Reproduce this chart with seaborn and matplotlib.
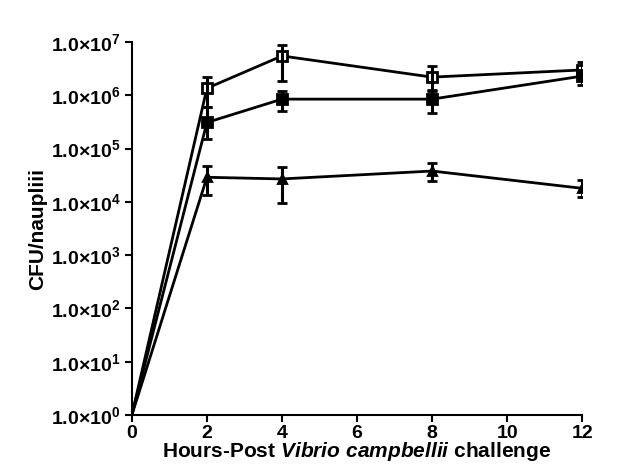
import numpy as np
import pandas as pd
import matplotlib
matplotlib.use('Agg')
import matplotlib.pyplot as plt
from matplotlib.ticker import FixedLocator, FixedFormatter
import seaborn as sns

# hours after challenge
hours = [0, 2, 4, 8, 12]

# CFU per nauplius (mean, lower bar, upper bar)
open_sq = [1.0, 1.36e6, 5.5e6, 2.2e6, 3.0e6]
open_sq_lo = [1.0, 6.0e5, 1.9e6, 1.26e6, 2.2e6]
open_sq_hi = [1.0, 2.2e6, 8.7e6, 3.5e6, 4.2e6]

filled_sq = [1.0, 3.1e5, 8.5e5, 8.5e5, 2.3e6]
filled_sq_lo = [1.0, 1.5e5, 5.0e5, 4.7e5, 1.55e6]
filled_sq_hi = [1.0, 6.0e5, 1.2e6, 1.2e6, 3.0e6]

triangle = [1.0, 2.9e4, 2.7e4, 3.8e4, 1.8e4]
triangle_lo = [1.0, 1.35e4, 9.5e3, 2.45e4, 1.23e4]
triangle_hi = [1.0, 4.7e4, 4.5e4, 5.4e4, 2.6e4]

ytick_powers = [0, 1, 2, 3, 4, 5, 6, 7]

sns.set_style('ticks')
plt.rcParams['font.family'] = ['Liberation Sans', 'DejaVu Sans']
plt.rcParams['font.weight'] = 'bold'
plt.rcParams['text.color'] = 'black'
plt.rcParams['axes.labelcolor'] = 'black'
plt.rcParams['mathtext.fontset'] = 'custom'
plt.rcParams['mathtext.rm'] = 'Liberation Sans:bold'
plt.rcParams['mathtext.bf'] = 'Liberation Sans:bold'
plt.rcParams['mathtext.it'] = 'Liberation Sans:italic:bold'

fig = plt.figure(figsize=(6.28, 4.73), dpi=100)
ax = fig.add_axes([0.210, 0.1226, 0.717, 0.7884])

series = [
    (open_sq, open_sq_lo, open_sq_hi, 's', 'white', 6.5),
    (filled_sq, filled_sq_lo, filled_sq_hi, 's', 'black', 6.5),
    (triangle, triangle_lo, triangle_hi, '^', 'black', 5.5),
]

for vals, lo, hi, mk, fc, ms in series:
    df = pd.DataFrame({'hours': hours, 'cfu': vals})
    sns.lineplot(data=df, x='hours', y='cfu', ax=ax, color='black', linewidth=2,
                 marker=mk, markersize=ms, markerfacecolor=fc,
                 markeredgecolor='black', markeredgewidth=2,
                 markevery=[1, 2, 3, 4], zorder=3)
    vals_a = np.array(vals[1:])
    err = [vals_a - np.array(lo[1:]), np.array(hi[1:]) - vals_a]
    ax.errorbar(hours[1:], vals[1:], yerr=err, fmt='none',
                ecolor='black', elinewidth=2.2, capsize=3.5, capthick=2, zorder=4)

ax.set_yscale('log')
ax.set_ylim(1, 1e7)
ax.set_xlim(0, 12)
ax.yaxis.set_major_locator(FixedLocator([10.0 ** p for p in ytick_powers]))
ax.yaxis.set_major_formatter(FixedFormatter([f'1.0×10$^{{{p}}}$' for p in ytick_powers]))
ax.yaxis.set_minor_locator(FixedLocator([]))
ax.set_xticks([0, 2, 4, 6, 8, 10, 12])

ax.tick_params(axis='both', labelsize=14, width=1.5, length=5, colors='black', pad=3)
ax.tick_params(axis='x', pad=2)
for lab in ax.get_xticklabels() + ax.get_yticklabels():
    lab.set_fontweight('bold')

ax.set_ylabel('CFU/naupliii', fontsize=15, fontweight='bold', labelpad=3)
ax.set_xlabel(r'Hours-Post $\mathit{Vibrio\ campbellii}$ challenge',
              fontsize=15, fontweight='bold', labelpad=-1)

sns.despine(ax=ax)
for s in ['left', 'bottom']:
    ax.spines[s].set_linewidth(1.5)
    ax.spines[s].set_color('black')

fig.savefig('out.png', dpi=100, facecolor='white')
